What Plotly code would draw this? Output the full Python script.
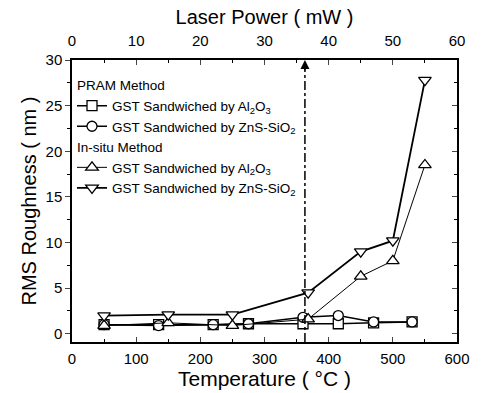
import plotly.graph_objects as go

# PRAM method
pram_al_T = [50, 135, 220, 275, 360, 415, 470, 530]
pram_al_R = [1.0, 1.0, 1.0, 1.1, 1.1, 1.1, 1.2, 1.3]
pram_zn_T = [50, 135, 220, 275, 360, 415, 470, 530]
pram_zn_R = [1.0, 0.9, 1.0, 1.1, 1.8, 2.0, 1.3, 1.3]
# In-situ method
insitu_al_T = [50, 150, 250, 368, 450, 500, 550]
insitu_al_R = [0.9, 1.2, 0.9, 1.6, 6.3, 8.0, 18.5]
insitu_zn_T = [50, 150, 250, 368, 450, 500, 550]
insitu_zn_R = [2.0, 2.1, 2.1, 4.5, 9.0, 10.2, 27.8]

threshold_T = 363

x_ticks = [0, 100, 200, 300, 400, 500, 600]
y_ticks = [0, 5, 10, 15, 20, 25, 30]
power_ticks = [0, 10, 20, 30, 40, 50, 60]

FONT = "Liberation Sans, Arial, sans-serif"
black = "black"
LEG = 13.5

fig = go.Figure()

def add(T, R, name, symbol, group, gtitle, lw=1.5, size=10):
    fig.add_trace(go.Scatter(
        x=T, y=R, name=name, mode="lines+markers",
        line=dict(color=black, width=lw),
        marker=dict(symbol=symbol, size=size, color="white",
                    line=dict(color=black, width=1.3)),
        legendgroup=group,
        legendgrouptitle=dict(text=gtitle, font=dict(size=LEG, color=black, family=FONT)),
    ))

add(pram_al_T, pram_al_R, "GST Sandwiched by Al<sub>2</sub>O<sub>3</sub>", "square", "pram", "PRAM Method")
add(pram_zn_T, pram_zn_R, "GST Sandwiched by ZnS-SiO<sub>2</sub>", "circle", "pram", "PRAM Method")
add(insitu_al_T, insitu_al_R, "GST Sandwiched by Al<sub>2</sub>O<sub>3</sub>", "triangle-up", "insitu", "In-situ Method", lw=1.0, size=11)
add(insitu_zn_T, insitu_zn_R, "GST Sandwiched by ZnS-SiO<sub>2</sub>", "triangle-down", "insitu", "In-situ Method", lw=1.8, size=11)

# invisible traces for top and right axes
fig.add_trace(go.Scatter(x=[0, 60], y=[0, 30], xaxis="x2", yaxis="y", mode="markers",
                         marker=dict(opacity=0), showlegend=False, hoverinfo="skip"))
fig.add_trace(go.Scatter(x=[0, 600], y=[0, 30], xaxis="x", yaxis="y2", mode="markers",
                         marker=dict(opacity=0), showlegend=False, hoverinfo="skip"))

# vertical dash-dot threshold line with arrow
fig.add_shape(type="line", x0=threshold_T, x1=threshold_T, y0=-0.9, y1=29.6,
              xref="x", yref="y", line=dict(color=black, width=1.5, dash="dashdot"))
fig.add_annotation(x=threshold_T, y=30, xref="x", yref="y", ax=0, ay=12,
                   showarrow=True, arrowhead=2, arrowsize=1.2, arrowwidth=1.5,
                   arrowcolor=black, text="")

tickfont = dict(size=15, color=black, family=FONT)
yr = [-0.9, 30]
fig.update_layout(
    width=482, height=393,
    margin=dict(l=72, r=22, t=60, b=50),
    paper_bgcolor="white", plot_bgcolor="white",
    font=dict(family=FONT, color=black),
    showlegend=True,
    legend=dict(x=0.0, y=0.965, xanchor="left", yanchor="top",
                bgcolor="rgba(0,0,0,0)", font=dict(size=LEG, color=black, family=FONT),
                tracegroupgap=0, itemwidth=30),
    xaxis=dict(range=[0, 600], tickvals=x_ticks, ticks="inside", ticklen=5,
               showline=True, linecolor=black, linewidth=1.5, showgrid=False, zeroline=False,
               tickfont=tickfont, ticklabelstandoff=2,
               minor=dict(ticks="inside", ticklen=3, dtick=50, tickcolor=black),
               title=dict(text="Temperature ( °C )", font=dict(size=21, color=black, family=FONT), standoff=0)),
    xaxis2=dict(range=[0, 60], overlaying="x", side="top", tickvals=power_ticks,
                ticks="inside", ticklen=5, showline=True, linecolor=black, linewidth=1.5,
                showgrid=False, zeroline=False, tickfont=tickfont, ticklabelstandoff=6,
                minor=dict(ticks="inside", ticklen=3, dtick=5, tickcolor=black),
                title=dict(text="Laser Power ( mW )", font=dict(size=20, color=black, family=FONT), standoff=2)),
    yaxis=dict(range=yr, tickvals=y_ticks, ticks="outside", ticklen=5,
               showline=True, linecolor=black, linewidth=1.5, showgrid=False, zeroline=False,
               tickfont=tickfont,
               minor=dict(ticks="outside", ticklen=3, dtick=2.5, tickcolor=black),
               title=dict(text="RMS Roughness ( nm )", font=dict(size=20, color=black, family=FONT), standoff=4)),
    yaxis2=dict(range=yr, overlaying="y", side="right", tickvals=y_ticks,
                ticks="inside", ticklen=5, showticklabels=False,
                showline=True, linecolor=black, linewidth=1.5, showgrid=False, zeroline=False,
                minor=dict(ticks="inside", ticklen=3, dtick=2.5, tickcolor=black)),
)

fig.write_html("out.html")
